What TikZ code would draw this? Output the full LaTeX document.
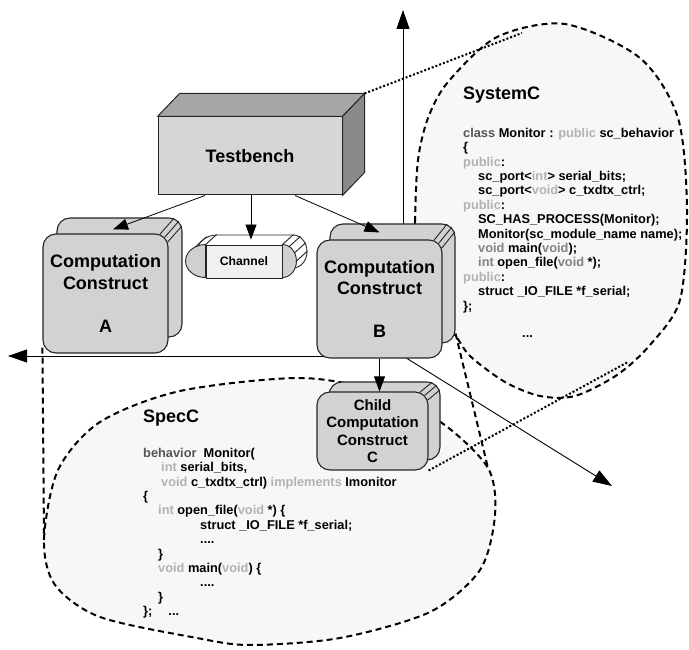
\documentclass[tikz,border=0pt]{standalone}
\usepackage{fontspec}
\setmainfont{Liberation Sans}
\usetikzlibrary{arrows.meta,calc}

\definecolor{panelgray}{RGB}{210,210,210}
\definecolor{tbfront}{RGB}{214,214,214}
\definecolor{tbtop}{RGB}{166,166,166}
\definecolor{tbside}{RGB}{138,138,138}
\definecolor{bubblegray}{RGB}{247,247,247}
\definecolor{chfront}{RGB}{240,240,240}
\definecolor{capgray}{RGB}{208,208,208}
\definecolor{kwdark}{RGB}{85,85,85}
\definecolor{kwmid}{RGB}{130,130,130}
\definecolor{kwlight}{RGB}{178,178,178}

\newcommand\kdark[1]{\textcolor{kwdark}{#1}}
\newcommand\kmid[1]{\textcolor{kwmid}{#1}}
\newcommand\klight[1]{\textcolor{kwlight}{#1}}

\begin{document}
\begin{tikzpicture}[x=1pt,y=-1pt,
    ccback/.style={draw=black!85,line width=1.1pt,fill=panelgray,rounded corners=13pt,inner sep=0pt},
    ccfront/.style={ccback,align=center,font=\fontsize{18}{21.5}\selectfont\bfseries},
    hatchline/.style={draw=black!85,line width=0.9pt},
    tbarrow/.style={-{Triangle[length=15pt,width=11pt]},line width=0.8pt},
    axisarrow/.style={-{Triangle[length=19pt,width=13pt]},line width=0.9pt},
    bubble/.style={fill=bubblegray,dash pattern=on 6pt off 4pt,line width=2pt},
    bubbleedge/.style={dash pattern=on 6pt off 4pt,line width=2pt},
    bubblelink/.style={dash pattern=on 2pt off 2pt,line width=2pt},
    codetext/.style={font=\fontsize{12.8}{14.4}\selectfont\bfseries,align=left,inner sep=0pt,anchor=north west},
    heading/.style={font=\fontsize{18}{20}\selectfont\bfseries,inner sep=0pt,anchor=base west}]
\useasboundingbox (0,0) rectangle (689,650);

% free ends
\coordinate (org) at (403,356);
\coordinate (xend) at (8,356);
\coordinate (yend) at (403,10);
\coordinate (zend) at (612,486);
\coordinate (sysctop) at (522,33);
\coordinate (syscbot) at (628,362);
\coordinate (specleft) at (44,540);
\coordinate (specright) at (488,468);

% the two zoom bubbles
\draw[bubble] plot[smooth cycle] coordinates {(415,300) (415,222) (418,160) (428,118)
  (448,82) (497,37) (565,24) (640,58) (678,118) (687,210) (680,300) (650,345)
  (617,375) (575,396) (540,396) (505,382) (470,356) (453,333) (430,320)};
\draw[bubble] plot[smooth cycle] coordinates {(44,540) (58,470) (100,422) (180,391)
  (300,378) (380,392) (442,423) (488,468) (495,515) (480,570) (430,612) (340,638)
  (250,645) (197,638) (100,617) (55,585)};

% axes
\draw[axisarrow] (org) -- (xend);
\draw[axisarrow] (org) -- (yend);
\draw[axisarrow] (org) -- (zend);

% testbench
\node[draw=black!85,line width=1pt,fill=tbfront,minimum width=184,minimum height=78,
  inner sep=0pt,font=\fontsize{18}{20}\selectfont\bfseries] (tb) at (250,156) {Testbench};
\draw[black!85,line width=1pt,fill=tbtop] (tb.north west) -- ++(22,-23)
  -- ([shift={(22,-23)}]tb.north east) -- (tb.north east) -- cycle;
\draw[black!85,line width=1pt,fill=tbside] (tb.north east) -- ++(22,-23)
  -- ([shift={(22,-23)}]tb.south east) -- (tb.south east) -- cycle;

% computation constructs
\node[ccback,minimum width=125,minimum height=119] (backA) at (119.5,277.5) {};
\node[ccfront,minimum width=125,minimum height=119] (A) at (105.5,293.5)
  {Computation\\Construct\\[21.5pt]A};
\node[ccback,minimum width=125,minimum height=119] (backB) at (392.5,283.5) {};
\node[ccfront,minimum width=125,minimum height=118] (B) at (379.5,299)
  {Computation\\Construct\\[21.5pt]B};
\node[ccback,minimum width=111,minimum height=78] (backC) at (384.5,421) {};
\node[ccfront,minimum width=111,minimum height=78,font=\fontsize{15}{17.3}\selectfont\bfseries] (C)
  at (372.5,431) {Child\\Computation\\Construct\\C};
\foreach \n in {A,B,C}
  \foreach \dx/\dy in {-0.8/8.6,-3.8/3.8,-8.6/0.8}
    \draw[hatchline] ([shift={(\dx,\dy)}]\n.north east) -- ([shift={(\dx,\dy)}]back\n.north east);

% channel
\draw[hatchline,fill=white] (217,235) -- (293,235)
  arc[start angle=-90,end angle=90,x radius=14,y radius=16.5] -- (217,268)
  arc[start angle=90,end angle=270,x radius=20,y radius=16.5] -- cycle;
\node[draw=black!85,line width=0.9pt,fill=chfront,minimum width=76,minimum height=33,
  inner sep=0pt,font=\fontsize{12.2}{14}\selectfont\bfseries] (ch) at (244,261.5) {Channel};
\draw[hatchline,fill=capgray] (ch.north west)
  arc[start angle=270,end angle=90,x radius=20,y radius=16.5] -- cycle;
\draw[hatchline,fill=capgray] (ch.north east)
  arc[start angle=-90,end angle=90,x radius=14,y radius=16.5] -- cycle;
\foreach \dx/\dy in {0/0,7/1.8,12.1/8.3,14/16.5}
  \draw[hatchline] ([shift={(\dx,\dy)}]ch.north east) -- ++(11,-10);
\draw[hatchline] (ch.north west) -- ++(11,-10);
\draw[hatchline] ([shift={(-10,2.2)}]ch.north west) -- ++(11,-10);

% arrows
\draw[tbarrow] ([xshift=-45pt]tb.south) -- ([xshift=7.5pt,yshift=4pt]A.north);
\draw[tbarrow] ([xshift=1pt]tb.south) -- ($(ch.north)+(7,-5)$);
\draw[tbarrow] ([xshift=45pt]tb.south) -- ([yshift=7pt]B.north);
\draw[tbarrow] (B.south) -- (B.south |- C.north);

% code
\node[heading] (sysctitle) at (463,100) {SystemC};
\node[codetext] (sysccode) at (463,127.8) {%
\kdark{class} Monitor : \klight{public} sc\_behavior\\
\{\\
\klight{public}:\\
\hspace*{15pt}sc\_port<\klight{int}> serial\_bits;\\
\hspace*{15pt}sc\_port<\klight{void}> c\_txdtx\_ctrl;\\
\klight{public}:\\
\hspace*{15pt}SC\_HAS\_PROCESS(Monitor);\\
\hspace*{15pt}Monitor(sc\_module\_name name);\\
\hspace*{15pt}\kmid{void} main(\kmid{void});\\
\hspace*{15pt}\kmid{int} open\_file(\kmid{void} *);\\
\klight{public}:\\
\hspace*{15pt}struct \_IO\_FILE *f\_serial;\\
\};\\[12.6pt]
\hspace*{59pt}...};
\node[heading] (specctitle) at (143,422) {SpecC};
\node[codetext] (speccode) at (143,447.8) {%
\kdark{behavior}\ \ Monitor(\\
\hspace*{18pt}\klight{int} serial\_bits,\\
\hspace*{18pt}\klight{void} c\_txdtx\_ctrl) \klight{implements} Imonitor\\
\{\\
\hspace*{15pt}\klight{int} open\_file(\klight{void} *) \{\\
\hspace*{57pt}struct \_IO\_FILE *f\_serial;\\
\hspace*{57pt}....\\
\hspace*{15pt}\}\\
\hspace*{15pt}\klight{void} main(\klight{void}) \{\\
\hspace*{57pt}....\\
\hspace*{15pt}\}\\
\};\hspace*{16pt}...};

% callout edges
\draw[bubbleedge] ([yshift=6pt]A.south west) -- (specleft);
\draw[bubbleedge] ([yshift=10pt]backB.south east) -- (specright);
\draw[bubblelink] ([shift={(22,-23)}]tb.north east) -- (sysctop);
\draw[bubblelink] (C.south east) -- (syscbot);
\end{tikzpicture}
\end{document}
